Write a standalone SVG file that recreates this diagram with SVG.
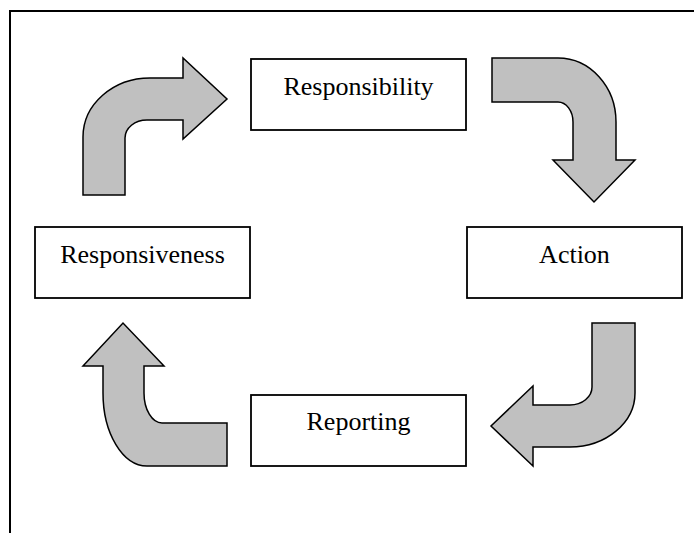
<svg xmlns="http://www.w3.org/2000/svg" width="694" height="533" viewBox="0 0 694 533">
<style>
.box{fill:#ffffff;stroke:#000000;stroke-width:1.8}
.lbl{font-family:"Liberation Serif","Times New Roman",serif;font-size:26px;fill:#000000;text-anchor:middle}
.arr{fill:#c0c0c0;stroke:#000000;stroke-width:1.5;stroke-linejoin:miter}
.frame{fill:none;stroke:#000000;stroke-width:2}
</style>
<rect width="694" height="533" fill="#ffffff"/>
<path class="frame" d="M 10 533 L 10 11 L 694 11"/>
<g id="connectors">
<path class="arr" d="M 83 195 L 83 137 A 67 59 0 0 1 150 78 L 183 78 L 183 58 L 227 99 L 183 139 L 183 120 L 147 120 A 22 18 0 0 0 125 138 L 125 195 Z"/>
<path class="arr" d="M 492 58 L 558 58 A 58 64 0 0 1 616 122 L 616 160 L 635 160 L 594 202 L 553 160 L 573 160 L 573 122 A 15 20 0 0 0 558 102 L 492 102 Z"/>
<path class="arr" d="M 592 323 L 635 323 L 635 393 A 65 54 0 0 1 570 447 L 533 447 L 533 466 L 491 426 L 533 386 L 533 405 L 570 405 A 22 18 0 0 0 592 387 Z"/>
<path class="arr" d="M 227 423 L 162 423 A 18 30 0 0 1 144 393 L 144 366 L 164 366 L 123 323 L 83 366 L 103 366 L 103 393 A 44 73 0 0 0 147 466 L 227 466 Z"/>
</g>
<g id="responsibility">
<rect class="box" x="251" y="59" width="215" height="71"/>
<text class="lbl" x="358.5" y="95">Responsibility</text>
</g>
<g id="action">
<rect class="box" x="467" y="227" width="215" height="71"/>
<text class="lbl" x="574.5" y="263">Action</text>
</g>
<g id="reporting">
<rect class="box" x="251" y="395" width="215" height="71"/>
<text class="lbl" x="358.5" y="430">Reporting</text>
</g>
<g id="responsiveness">
<rect class="box" x="35" y="227" width="215" height="71"/>
<text class="lbl" x="142.5" y="263">Responsiveness</text>
</g>
</svg>
